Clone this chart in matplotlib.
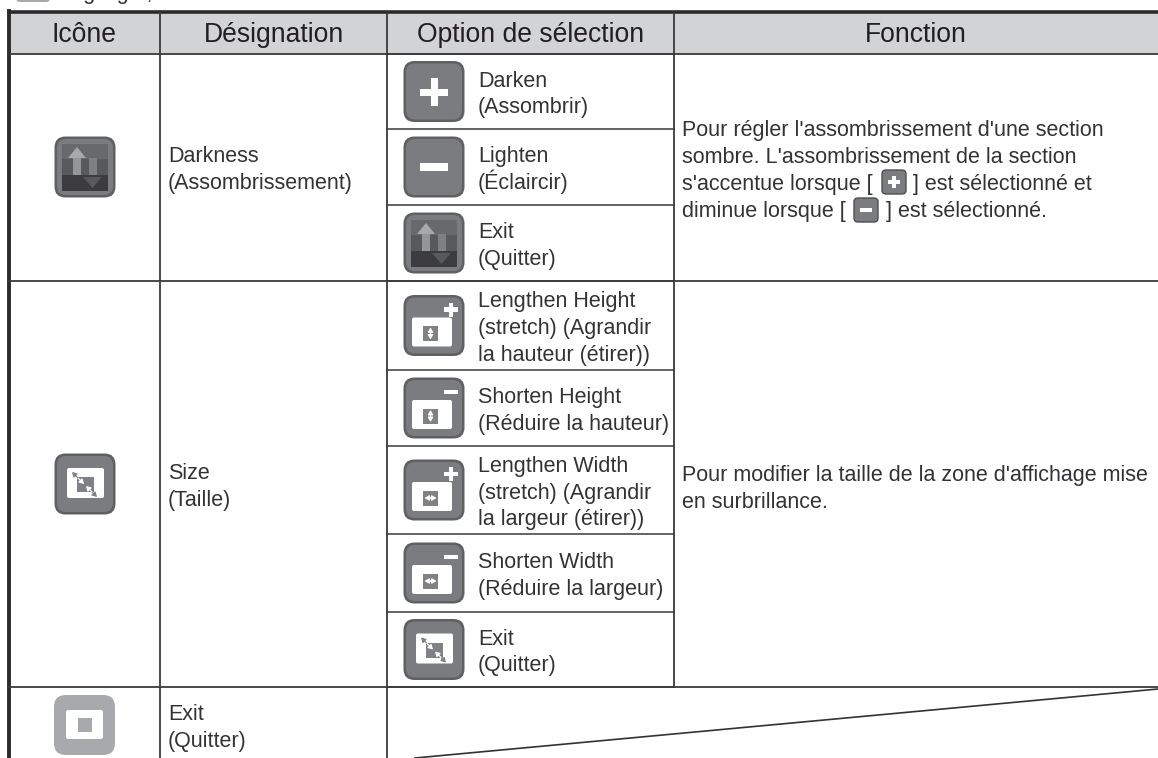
import matplotlib
matplotlib.use('Agg')
import matplotlib.pyplot as plt
from matplotlib.patches import FancyBboxPatch, Rectangle, Polygon

plt.rcParams['font.family'] = ['Liberation Sans', 'DejaVu Sans']

# table content
headers = ['Icône', 'Désignation', 'Option de sélection', 'Fonction']
row_names = ['Darkness\n(Assombrissement)', 'Size\n(Taille)', 'Exit\n(Quitter)']
row_icons = ['dark', 'size', 'exit']
option_labels = ['Darken\n(Assombrir)', 'Lighten\n(Éclaircir)', 'Exit\n(Quitter)',
                 'Lengthen Height\n(stretch) (Agrandir\nla hauteur (étirer))',
                 'Shorten Height\n(Réduire la hauteur)',
                 'Lengthen Width\n(stretch) (Agrandir\nla largeur (étirer))',
                 'Shorten Width\n(Réduire la largeur)', 'Exit\n(Quitter)']
option_icons = ['plus', 'minus', 'dark', 'h_plus', 'h_minus', 'w_plus', 'w_minus', 'size']
func_1 = "Pour régler l'assombrissement d'une section\nsombre. L'assombrissement de la section\ns'accentue lorsque [      \u2009] est sélectionné et\ndiminue lorsque [      \u2009] est sélectionné."
func_2 = "Pour modifier la taille de la zone d'affichage mise\nen surbrillance."

# pixel layout of the page
col_x = [9, 160, 387, 674, 1158]
option_lines = [54, 129, 205, 281, 370, 446, 534, 612, 687]
row_lines = [54, 281, 687]
INK = '#333335'
LINE = '#3a3a3c'
BODY = 15.5
STEP = 26.8

fig = plt.figure(figsize=(11.58, 7.58), dpi=100)
ax = fig.add_axes([0, 0, 1, 1])
ax.set_xlim(0, 1158)
ax.set_ylim(758, 0)
ax.axis('off')


def rounded(x, y, w, h, r, fc, ec='none', lw=0, z=3):
    ax.add_patch(FancyBboxPatch((x + r, y + r), w - 2 * r, h - 2 * r,
                                boxstyle='round,pad=%s,rounding_size=%s' % (r, r),
                                fc=fc, ec=ec, lw=lw, zorder=z))


def rect(x, y, w, h, fc, z=4):
    ax.add_patch(Rectangle((x, y), w, h, fc=fc, ec='none', zorder=z))


def plus_sign(cx, cy, s, t, col='white'):
    rect(cx - s, cy - t, 2 * s, 2 * t, col, 5)
    rect(cx - t, cy - s, 2 * t, 2 * s, col, 5)


def arrow(x0, y0, x1, y1, col):
    ax.annotate('', xy=(x1, y1), xytext=(x0, y0), zorder=6,
                arrowprops=dict(arrowstyle='-|>,head_width=0.13,head_length=0.22', color=col,
                                lw=0.9, shrinkA=0, shrinkB=0, mutation_scale=12))


def button(cx, cy):
    # darker rim with a flat face inside
    rounded(cx - 30.5, cy - 30.5, 61, 61, 11, '#5f6062', z=3)
    rounded(cx - 28, cy - 28, 56, 56, 9, '#7b7c7f', z=3)


def lines(x, cy, txt, size=BODY):
    parts = txt.split('\n')
    for i, p in enumerate(parts):
        base = cy + 7.5 + (i - (len(parts) - 1) / 2) * STEP
        ax.text(x, base, p, fontsize=size, color=INK, ha='left', va='baseline')


def icon(cx, cy, kind):
    # buttons are about 60 px square
    if kind == 'exit':
        rounded(cx - 31, cy - 30, 61, 60, 12, '#a7a9ac')
        rounded(cx - 19, cy - 15, 37, 29, 2, 'white', z=4)
        rect(cx - 7, cy - 7, 14, 14, '#a7a9ac', 5)
        return
    button(cx, cy)
    if kind == 'plus':
        plus_sign(cx, cy + 0.5, 14, 3.5)
    elif kind == 'minus':
        rect(cx - 14, cy - 4, 28, 8, 'white', 5)
    elif kind == 'dark':
        rect(cx - 23, cy - 23, 46, 15, '#68696b')
        rect(cx - 23, cy - 8, 46, 16, '#58595b')
        rect(cx - 23, cy + 8, 46, 16, '#3c3c3e')
        ax.add_patch(Polygon([[cx - 17, cy - 9], [cx - 8, cy - 20], [cx + 1, cy - 9]], fc='#a7a9ac', ec='none', zorder=5))
        rect(cx - 12, cy - 9, 8, 17, '#939598', 5)
        rect(cx + 4, cy - 9, 8, 17, '#7f8083', 5)
        ax.add_patch(Polygon([[cx - 2, cy + 10], [cx + 17, cy + 10], [cx + 7.5, cy + 21]], fc='#58595b', ec='none', zorder=5))
    elif kind == 'size':
        rounded(cx - 18, cy - 16, 37, 30, 2, 'white', z=4)
        rect(cx - 8, cy - 7, 17, 15, '#808184', 5)
        arrow(cx - 7, cy - 6, cx - 13, cy - 12, '#808184')
        arrow(cx - 7, cy - 6, cx - 1, cy, 'white')
        arrow(cx + 7, cy + 8, cx + 12, cy + 13, '#808184')
        arrow(cx + 7, cy + 8, cx + 1, cy + 2, 'white')
    else:
        # stretch buttons, small screen with a sign on the corner
        rounded(cx - 22, cy - 8, 40, 29, 2, 'white', z=4)
        rect(cx - 11, cy + 0.5, 15, 15, '#808184', 5)
        sx, sy = cx - 3.5, cy + 8
        if kind[0] == 'h':
            arrow(sx, sy, sx, sy - 6, 'white')
            arrow(sx, sy, sx, sy + 6, 'white')
        else:
            arrow(sx, sy, sx - 6, sy, 'white')
            arrow(sx, sy, sx + 6, sy, 'white')
        if kind.endswith('plus'):
            plus_sign(cx + 17, cy - 16, 7, 2.4)
        else:
            rect(cx + 10, cy - 18, 14, 3.5, 'white', 5)


# header band
rect(col_x[0], 12, col_x[4] - col_x[0], 42, '#d1d3d4', 1)
for i, h in enumerate(headers):
    ax.text((col_x[i] + col_x[i + 1]) / 2, 42.5, h, fontsize=19.1, color='#231f20', ha='center', va='baseline')

# rules
ax.plot([col_x[0], col_x[4]], [12, 12], color='#2b2b2d', lw=2.6, zorder=2)
ax.plot([col_x[0], col_x[0]], [11, 758], color='#2b2b2d', lw=2.8, zorder=2)
for x in col_x[1:3]:
    ax.plot([x, x], [12, 758], color=LINE, lw=1.3, zorder=2)
ax.plot([col_x[3], col_x[3]], [12, 687], color=LINE, lw=1.3, zorder=2)
for y in row_lines:
    ax.plot([col_x[0], col_x[4]], [y, y], color=LINE, lw=1.3, zorder=2)
for y in option_lines:
    ax.plot([col_x[2], col_x[3]], [y, y], color=LINE, lw=1.1, zorder=2)
ax.plot([415, 1158], [758, 689], color='#333335', lw=1.2, zorder=2)

# cut off line above the table
rounded(16, -14, 34, 16, 4, '#a7a9ac')
ax.text(63, -1, 'Highlight,', fontsize=BODY, color=INK, ha='left', va='baseline')

# first and second columns
for cy, name, kind in zip([167, 484, 725], row_names, row_icons):
    icon(85, cy, kind)
    lines(168, cy + 1, name)

# options
for top, bottom, lab, kind in zip(option_lines[:-1], option_lines[1:], option_labels, option_icons):
    cy = (top + bottom) / 2
    icon(434, cy, kind)
    lines(478, cy + 1, lab)

# function column
lines(682, 169, func_1)
lines(682, 487, func_2)
rounded(882, 170, 24, 24, 4, '#7b7c7f', '#505052', 1.0)
plus_sign(894, 182, 6, 2)
rounded(854, 198, 24, 24, 4, '#7b7c7f', '#505052', 1.0)
rect(860, 208, 12, 4, 'white', 5)

fig.savefig('out.png', dpi=100)
